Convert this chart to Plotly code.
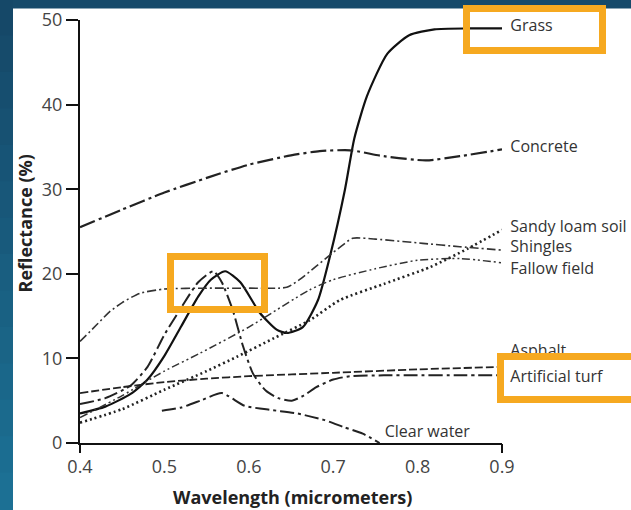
import plotly.graph_objects as go

# ---------------- data ----------------
grass_x = [0.40, 0.43, 0.46, 0.48, 0.50, 0.52, 0.54, 0.555, 0.572, 0.59, 0.613, 0.633, 0.645,
           0.664, 0.682, 0.696, 0.714, 0.725, 0.74, 0.764, 0.79, 0.82, 0.86, 0.90]
grass_y = [3.5, 4.3, 5.8, 7.5, 10.3, 13.8, 17.3, 19.3, 20.3, 19.0, 15.4, 13.4, 13.0,
           13.7, 16.9, 22.0, 30.0, 36.0, 41.0, 46.0, 48.2, 48.9, 49.0, 49.0]

concrete_x = [0.40, 0.45, 0.50, 0.552, 0.60, 0.65, 0.684, 0.72, 0.76, 0.81, 0.85, 0.90]
concrete_y = [25.5, 27.6, 29.6, 31.4, 32.9, 34.0, 34.5, 34.6, 33.9, 33.4, 33.9, 34.7]

sandy_x = [0.40, 0.45, 0.50, 0.55, 0.586, 0.63, 0.672, 0.708, 0.76, 0.815, 0.86, 0.90]
sandy_y = [2.4, 4.0, 6.3, 8.5, 10.2, 12.4, 14.5, 16.9, 18.8, 20.8, 23.0, 25.2]

shingles_x = [0.40, 0.42, 0.435, 0.45, 0.471, 0.50, 0.55, 0.60, 0.645, 0.66, 0.68, 0.696,
              0.71, 0.723, 0.75, 0.806, 0.85, 0.90]
shingles_y = [12.0, 14.0, 15.5, 16.6, 17.7, 18.2, 18.3, 18.3, 18.4, 19.3, 20.9, 22.2,
              23.3, 24.2, 24.1, 23.6, 23.2, 22.8]

fallow_x = [0.40, 0.45, 0.50, 0.542, 0.60, 0.672, 0.70, 0.75, 0.80, 0.85, 0.90]
fallow_y = [3.0, 5.6, 8.5, 10.6, 13.7, 18.1, 19.3, 20.6, 21.6, 21.8, 21.3]

asphalt_x = [0.40, 0.45, 0.50, 0.55, 0.60, 0.70, 0.80, 0.90]
asphalt_y = [5.9, 6.6, 7.2, 7.6, 7.9, 8.3, 8.7, 9.0]

turf_x = [0.40, 0.43, 0.46, 0.48, 0.50, 0.52, 0.54, 0.558, 0.568, 0.581, 0.593, 0.605, 0.62,
          0.635, 0.651, 0.665, 0.68, 0.70, 0.72, 0.76, 0.80, 0.85, 0.90]
turf_y = [4.6, 5.3, 6.8, 9.0, 12.8, 16.0, 19.0, 20.3, 19.0, 15.7, 11.5, 8.2, 6.2,
          5.3, 5.0, 5.6, 6.6, 7.5, 7.9, 8.0, 8.0, 8.0, 8.0]

water_x = [0.497, 0.52, 0.545, 0.568, 0.595, 0.627, 0.657, 0.69, 0.712, 0.735, 0.755]
water_y = [3.8, 4.2, 5.1, 5.9, 4.4, 3.9, 3.5, 2.7, 1.9, 1.1, 0.0]

label_names = ["Grass", "Concrete", "Sandy loam soil", "Shingles", "Fallow field",
               "Asphalt", "Artificial turf", "Clear water"]
label_x = [0.90, 0.90, 0.90, 0.90, 0.90, 0.90, 0.90, 0.761]
label_y = [49.2, 34.9, 25.4, 23.0, 20.4, 10.8, 7.7, 1.2]

x_ticks = [0.4, 0.5, 0.6, 0.7, 0.8, 0.9]
y_ticks = [0, 10, 20, 30, 40, 50]

# ---------------- figure ----------------
W, H = 631, 510
ML, MR, MT, MB = 80, W - 502, 20, H - 443
PW, PH = W - ML - MR, H - MT - MB


def px_x(p):
    return (p - ML) / PW


def px_y(p):
    return (H - MB - p) / PH


INK = "#222222"
FONT = "Open Sans, Lato, DejaVu Sans, sans-serif"

fig = go.Figure()

series = [
    (grass_x, grass_y, "solid", 2.2, "#111111"),
    (concrete_x, concrete_y, "16px,4px,3px,4px", 2.2, INK),
    (sandy_x, sandy_y, "2px,3px", 2.6, INK),
    (shingles_x, shingles_y, "9px,3px,2px,3px", 1.6, "#333333"),
    (fallow_x, fallow_y, "8px,3px,2px,3px,2px,3px", 1.5, "#333333"),
    (asphalt_x, asphalt_y, "8px,3px", 1.8, INK),
    (turf_x, turf_y, "14px,4px,3px,4px", 2.0, INK),
    (water_x, water_y, "14px,4px,3px,4px", 2.0, INK),
]
for sx, sy, dash, w, c in series:
    fig.add_trace(go.Scatter(x=sx, y=sy, mode="lines",
                             line=dict(color=c, width=w, dash=dash, shape="spline", smoothing=0.6),
                             hoverinfo="skip", showlegend=False, cliponaxis=False))

# series labels as a text trace (kept beneath the orange highlight boxes)
label_text = [("\u00a0\u00a0" + t if x >= 0.9 else t) for t, x in zip(label_names, label_x)]
fig.add_trace(go.Scatter(x=label_x, y=label_y, mode="text", text=label_text,
                         textposition="middle right", xaxis="x2",
                         textfont=dict(family=FONT, size=16, color="#333333"),
                         cliponaxis=False, showlegend=False, hoverinfo="skip"))

# ---------------- background / highlight shapes ----------------
shapes = []
shapes.append(dict(type="rect", xref="paper", yref="paper", layer="below",
                   x0=px_x(13), x1=px_x(W + 20), y0=px_y(8.5), y1=px_y(H + 20),
                   fillcolor="white", line=dict(width=0)))
top_c, bot_c = (21, 72, 104), (28, 112, 148)
n = 14
for i in range(n):
    t = i / (n - 1)
    c = tuple(int(round(a + (b - a) * t)) for a, b in zip(top_c, bot_c))
    shapes.append(dict(type="rect", xref="paper", yref="paper", layer="below",
                       x0=px_x(-5), x1=px_x(13), y0=px_y(i * H / n - 1), y1=px_y((i + 1) * H / n + 1),
                       fillcolor="rgb(%d,%d,%d)" % c, line=dict(width=0)))

ORANGE = "#F6A920"
for (a, b, c, d) in [(466.5, 602.5, 8.5, 50.5), (170.5, 264.5, 256.5, 309.5), (500.5, 660, 356.5, 399.5)]:
    shapes.append(dict(type="rect", xref="paper", yref="paper", layer="above",
                       x0=px_x(a), x1=px_x(b), y0=px_y(c), y1=px_y(d),
                       fillcolor="rgba(0,0,0,0)", line=dict(color=ORANGE, width=7)))

annotations = [
    dict(text="<b>Wavelength (micrometers)</b>", xref="paper", yref="paper",
         x=px_x(292), y=px_y(497), xanchor="center", yanchor="middle", showarrow=False,
         font=dict(family=FONT, size=18, color="#222222")),
    dict(text="<b>Reflectance (%)</b>", xref="paper", yref="paper", textangle=-90,
         x=px_x(24), y=px_y(223.5), xanchor="center", yanchor="middle", showarrow=False,
         font=dict(family=FONT, size=18, color="#222222")),
]

fig.update_layout(
    width=W, height=H,
    margin=dict(l=ML, r=MR, t=MT, b=MB, autoexpand=False),
    paper_bgcolor="rgb(22,74,106)",
    plot_bgcolor="white",
    shapes=shapes,
    annotations=annotations,
    showlegend=False,
    xaxis=dict(range=[0.4, 0.9], tickvals=x_ticks, ticktext=["%.1f" % v for v in x_ticks],
               showgrid=False, zeroline=False, showline=True, linecolor="#111111", linewidth=2,
               ticks="outside", ticklen=6, tickcolor="rgba(0,0,0,0)",
               tickfont=dict(family=FONT, size=18, color="#444444"),
               fixedrange=True),
    xaxis2=dict(range=[0.4, 0.9], overlaying="x", anchor="y", side="bottom",
                tickvals=[0.4, 0.9], ticks="outside", ticklen=9, tickwidth=2, tickcolor="#111111",
                showticklabels=False, showgrid=False, zeroline=False, showline=False,
                fixedrange=True),
    yaxis=dict(range=[0, 50], tickvals=y_ticks, showgrid=False, zeroline=False,
               showline=True, linecolor="#111111", linewidth=2,
               ticks="outside", ticklen=12, tickwidth=2, tickcolor="#111111",
               tickfont=dict(family=FONT, size=18, color="#444444"),
               fixedrange=True),
)

fig.write_html("out.html", config={"displayModeBar": False},
               post_script="document.body.style.margin='0px';")
